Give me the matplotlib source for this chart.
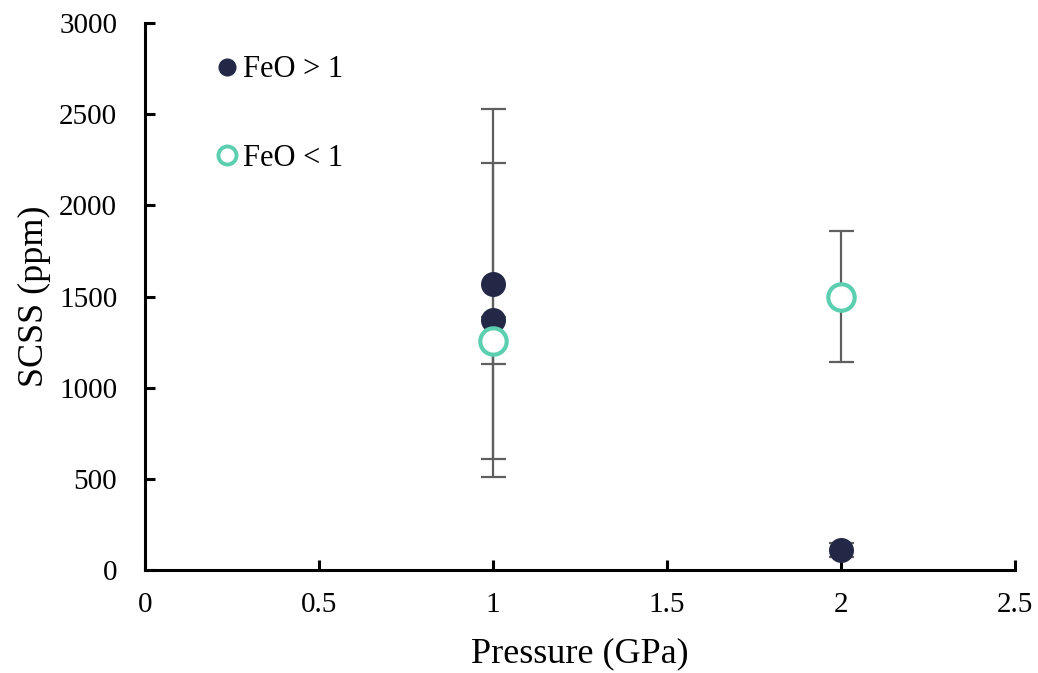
import matplotlib
matplotlib.use("Agg")
import matplotlib.pyplot as plt
from matplotlib.lines import Line2D

# Data
feo_high_p = [1, 1, 2]
feo_high_scss = [1570, 1370, 110]
feo_high_err = [960, 860, 40]

feo_low_p = [1, 2]
feo_low_scss = [1258, 1500]
feo_low_err = [128, 360]

x_ticks = [0, 0.5, 1, 1.5, 2, 2.5]
x_ticklabels = ["0", "0.5", "1", "1.5", "2", "2.5"]
y_ticks = [0, 500, 1000, 1500, 2000, 2500, 3000]

navy = "#232846"
teal = "#5ccfb0"
gray = "#5f5f5f"

plt.rcParams["font.family"] = ["Liberation Serif", "DejaVu Serif"]

fig = plt.figure(figsize=(10.38, 6.73), dpi=100)
ax = fig.add_axes([0.1397, 0.153, 0.8381, 0.8128])

ax.errorbar(feo_high_p, feo_high_scss, yerr=feo_high_err, fmt="none",
            ecolor=gray, elinewidth=1.6, capsize=9, capthick=1.6, zorder=2)
ax.errorbar(feo_low_p, feo_low_scss, yerr=feo_low_err, fmt="none",
            ecolor=gray, elinewidth=1.6, capsize=9, capthick=1.6, zorder=2)
ax.plot(feo_high_p, feo_high_scss, "o", color=navy, markersize=18,
        markeredgewidth=0, zorder=3)
ax.plot(feo_low_p, feo_low_scss, "o", markerfacecolor="white",
        markeredgecolor=teal, markersize=19, markeredgewidth=3.0, zorder=4)

ax.set_xlim(0, 2.5)
ax.set_ylim(0, 3000)
ax.set_xticks(x_ticks)
ax.set_xticklabels(x_ticklabels)
ax.set_yticks(y_ticks)

for s in ["top", "right"]:
    ax.spines[s].set_visible(False)
for s in ["left", "bottom"]:
    ax.spines[s].set_linewidth(2.2)
    ax.spines[s].set_color("black")
ax.tick_params(axis="both", direction="in", length=7, width=2.2,
               labelsize=21)
ax.tick_params(axis="x", pad=16)
ax.tick_params(axis="y", pad=20)

ax.set_xlabel("Pressure (GPa)", fontsize=26, labelpad=14)
ax.set_ylabel("SCSS (ppm)", fontsize=26, labelpad=6)

handles = [
    Line2D([], [], marker="o", linestyle="none", color=navy, markersize=13,
           markeredgewidth=0),
    Line2D([], [], marker="o", linestyle="none", markerfacecolor="white",
           markeredgecolor=teal, markersize=13, markeredgewidth=2.8),
]
ax.legend(handles, ["FeO > 1", "FeO < 1"], loc="upper left",
          bbox_to_anchor=(0.077, 0.941), frameon=False, fontsize=22,
          labelspacing=1.95, handletextpad=0.0, handlelength=1.0,
          borderaxespad=0, borderpad=0)

fig.savefig("out.png", dpi=100)
